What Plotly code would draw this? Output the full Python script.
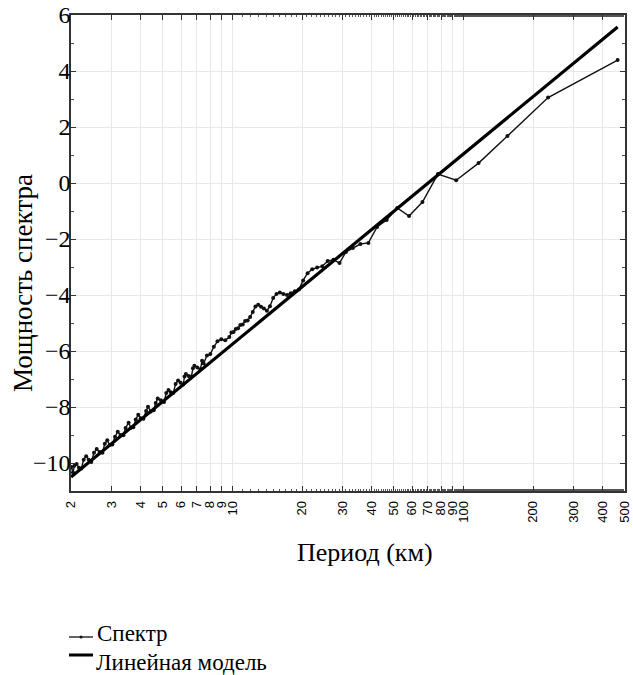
import plotly.graph_objects as go

# Spectrum: period (km) and spectral power
spec_period = [465, 232.5, 155, 116.25, 93, 77.5, 66.43, 58.13, 51.67, 46.5,
               42.27, 38.75, 35.77, 33.21, 31.0, 29.06, 27.35, 25.83, 24.47, 23.25,
               22.14, 21.14, 20.22, 19.38, 18.6, 17.88, 17.22, 16.61, 16.03, 15.5,
               15.0, 14.53, 14.09, 13.68, 13.29, 12.92, 12.57, 12.24, 11.92, 11.63,
               11.34, 11.07, 10.81, 10.57, 10.33, 10.11, 9.894, 9.688, 9.3, 8.942,
               8.611, 8.304, 8.017, 7.75, 7.5, 7.381, 7.266, 7.045, 6.838, 6.739,
               6.643, 6.458, 6.284, 6.2, 6.118, 5.962, 5.813, 5.671, 5.536, 5.407,
               5.284, 5.167, 5.054, 4.895, 4.745, 4.65, 4.559, 4.429, 4.306, 4.227,
               4.115, 4.009, 3.908, 3.811, 3.72, 3.633, 3.55, 3.444, 3.37, 3.275,
               3.185, 3.1, 3.019, 2.943, 2.87, 2.801, 2.735, 2.657, 2.583, 2.514,
               2.447, 2.385, 2.325, 2.268, 2.214, 2.163, 2.114, 2.067, 2.039, 2.004]
spec_power = [4.39, 3.05, 1.68, 0.71, 0.10, 0.32, -0.68, -1.18, -0.89, -1.32,
              -1.57, -2.14, -2.18, -2.32, -2.46, -2.86, -2.74, -2.79, -2.97, -3.02,
              -3.08, -3.22, -3.48, -3.80, -3.87, -3.94, -4.00, -3.96, -3.91, -3.96,
              -4.11, -4.40, -4.56, -4.48, -4.42, -4.35, -4.41, -4.61, -4.79, -4.91,
              -4.93, -5.05, -5.07, -5.19, -5.21, -5.32, -5.34, -5.50, -5.62, -5.58,
              -5.65, -5.85, -6.11, -6.16, -6.45, -6.35, -6.65, -6.59, -6.53, -6.62,
              -6.91, -6.89, -6.82, -6.91, -7.20, -7.13, -7.05, -7.18, -7.50, -7.47,
              -7.39, -7.50, -7.82, -7.76, -7.70, -7.86, -8.12, -8.16, -7.99, -8.14,
              -8.42, -8.40, -8.28, -8.45, -8.72, -8.74, -8.56, -8.75, -9.01, -9.00,
              -8.88, -9.06, -9.34, -9.36, -9.19, -9.31, -9.63, -9.61, -9.50, -9.63,
              -9.96, -9.88, -9.76, -9.88, -10.20, -10.17, -10.04, -10.10, -10.34, -10.14]

# Linear model (straight line in log-period space)
model_period = [2.0, 465]
model_power = [-10.5, 5.57]

x_tickvals = [2, 3, 4, 5, 6, 7, 8, 9, 10, 20, 30, 40, 50, 60, 70, 80, 90, 100,
              200, 300, 400, 500]
x_ticktext = [str(v) for v in x_tickvals]
y_tickvals = [-10, -8, -6, -4, -2, 0, 2, 4, 6]

legend_names = ["Спектр", "Линейная модель"]

serif = "Liberation Serif, Times New Roman, serif"
sans = "Liberation Sans, Arial, sans-serif"

# plot-area pixel geometry
PL, PR, PT, PB = 71, 625, 15, 491


def px(xp):
    return (xp - PL) / (PR - PL)


def py(yp):
    return (PB - yp) / (PB - PT)


fig = go.Figure()
fig.add_trace(go.Scatter(
    x=spec_period, y=spec_power, mode="lines+markers", name=legend_names[0],
    line=dict(color="#111111", width=1.4),
    marker=dict(color="#111111", size=4, symbol="circle"),
    showlegend=False,
))
fig.add_trace(go.Scatter(
    x=model_period, y=model_power, mode="lines", name=legend_names[1],
    line=dict(color="#000000", width=3.2),
    showlegend=False,
))

annotations = [
    dict(text="Мощность спектра", x=px(23), y=py(283), xref="paper", yref="paper",
         xanchor="center", yanchor="middle",
         showarrow=False, textangle=-90, font=dict(family=serif, size=27)),
    dict(text="Период (км)", x=px(365), y=py(552), xref="paper", yref="paper",
         xanchor="center", yanchor="middle",
         showarrow=False, font=dict(family=serif, size=26)),
    dict(text=legend_names[0], x=px(95), y=py(648), xref="paper", yref="paper",
         xanchor="left", yanchor="bottom",
         showarrow=False, font=dict(family=serif, size=23)),
    dict(text=legend_names[1], x=px(94), y=py(648), xref="paper", yref="paper",
         xanchor="left", yanchor="top",
         showarrow=False, font=dict(family=serif, size=23)),
]
shapes = [
    dict(type="line", xref="paper", yref="paper", x0=px(69), x1=px(93),
         y0=py(637), y1=py(637), line=dict(color="#111111", width=1.3)),
    dict(type="circle", xref="paper", yref="paper", x0=px(79.5), x1=px(82.5),
         y0=py(635.5), y1=py(638.5), fillcolor="#111111",
         line=dict(color="#111111", width=0)),
    dict(type="line", xref="paper", yref="paper", x0=px(69), x1=px(93),
         y0=py(655), y1=py(655), line=dict(color="#000000", width=3)),
]

fig.update_layout(
    width=633, height=675,
    margin=dict(l=PL, r=633 - PR, t=PT, b=675 - PB),
    paper_bgcolor="white", plot_bgcolor="white",
    font=dict(family=serif, color="black"),
    showlegend=False,
    annotations=annotations,
    shapes=shapes,
)

fig.update_xaxes(
    type="log", range=[0.3008, 2.6993],
    tickmode="array", tickvals=x_tickvals, ticktext=x_ticktext,
    tickangle=-90, tickfont=dict(family=sans, size=13, color="black"),
    ticklabeloverflow="allow", ticklabelstandoff=3,
    ticks="inside", ticklen=5, tickcolor="#333333",
    showline=True, linecolor="#333333", linewidth=1.5, mirror="allticks",
    showgrid=True, gridcolor="#e8e8e8", gridwidth=1,
    minor=dict(ticks="inside", ticklen=2, tickcolor="#555555", showgrid=False),
    zeroline=False, automargin=False,
)
fig.update_yaxes(
    range=[-11, 6], tickmode="array", tickvals=y_tickvals,
    tickfont=dict(family=serif, size=24, color="black"),
    ticklabeloverflow="allow", ticklabelstandoff=-6,
    ticks="inside", ticklen=5, tickcolor="#333333",
    showline=True, linecolor="#333333", linewidth=1.5, mirror="allticks",
    showgrid=True, gridcolor="#e8e8e8", gridwidth=1,
    minor=dict(ticks="inside", ticklen=3, tickcolor="#555555", dtick=1,
               tick0=0, showgrid=False),
    zeroline=False, automargin=False,
)

fig.write_html("out.html")
